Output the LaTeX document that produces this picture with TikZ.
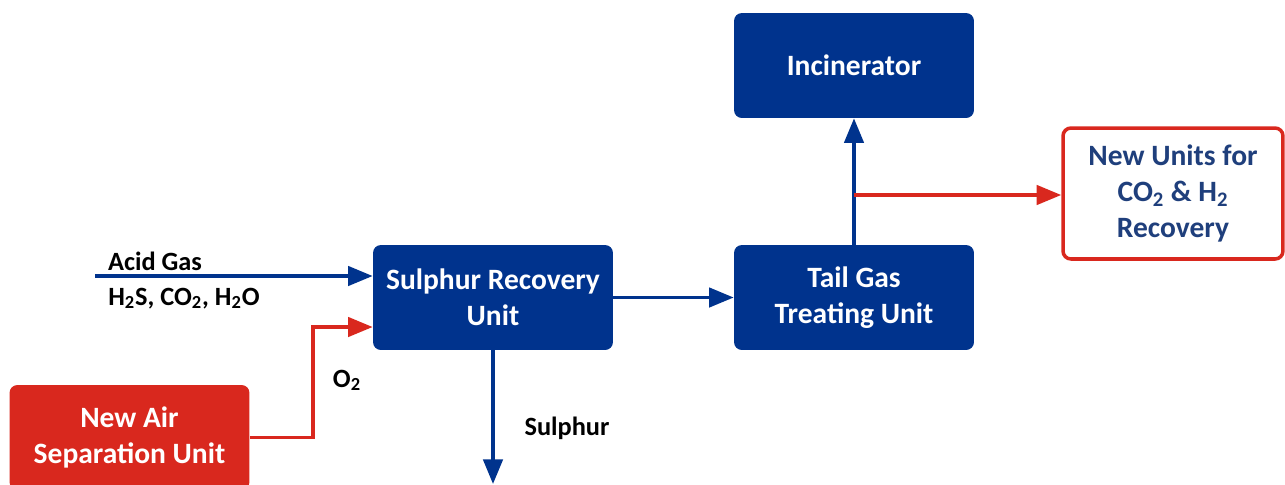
\documentclass[tikz,border=0pt]{standalone}
\usepackage{fontspec}
\setmainfont{Carlito}
\usepackage{tikz}
\usetikzlibrary{
    arrows.meta,
    calc,
    positioning
}
\definecolor{unitblue}{HTML}{00338D}
\definecolor{newred}{HTML}{D9281E}
\definecolor{textblue}{HTML}{1F3F7C}
\newcommand{\sbs}[1]{\textsubscript{#1}}

\begin{document}
\begin{tikzpicture}[x=0.02cm, y=-0.02cm,
        unitbox/.style={rectangle, rounded corners=4.5pt, fill=unitblue, text=white,
            font=\fontsize{16.8}{20.5}\selectfont\bfseries, align=center,
            minimum width=4.8cm, minimum height=2.1cm, inner sep=2pt},
        newbox/.style={rectangle, rounded corners=4.5pt, draw=newred, line width=2pt,
            fill=white, text=textblue, font=\fontsize{16.8}{20.5}\selectfont\bfseries,
            align=center, minimum width=4.4cm, minimum height=2.62cm, inner sep=2pt},
        asubox/.style={unitbox, fill=newred},
        flow/.style={draw=unitblue, line width=2pt, -{Triangle[length=14pt,width=11pt]}},
        redflow/.style={flow, draw=newred, -{Triangle[length=14pt,width=11pt,color=newred]}},
        lbl/.style={font=\fontsize{15}{18}\selectfont\bfseries, inner sep=0pt, anchor=base}]
                        \useasboundingbox (0,0) rectangle (1285,484);

                        \node[unitbox] (sru) at (493, 297.5) {Sulphur Recovery\\Unit};
                        \node[unitbox] (tgtu) at (854, 297.5) {Tail Gas\\Treating Unit};
                        \node[unitbox] (incin) at (854, 65.5) {Incinerator};
                        \node[newbox] (newu) at (1173, 193.5) {New Units for\\CO\sbs{2} \& H\sbs{2}\\Recovery};
                        \node[asubox] (asu) at (129.5, 437.5) {New Air\\Separation Unit};

                        \coordinate (acid) at (95, 276);
                        \coordinate (o2bend) at (313, 327);
                        \coordinate (tap) at (854, 195);
                        \coordinate (sulout) at (493, 484);

                        \node[lbl] (acidlbl) at (155, 270) {Acid Gas};
                        \node[lbl] (complbl) at (184, 305) {H\sbs{2}S, CO\sbs{2}, H\sbs{2}O};
                        \node[lbl] (o2lbl) at (347, 387) {O\sbs{2}};
                        \node[lbl] (sullbl) at (567, 435) {Sulphur};

                        \draw[flow] (acid) -- (acid -| sru.west);
                        \draw[redflow] (asu.east) -| (o2bend) -- (o2bend -| sru.west);
                        \draw[flow] (sru) -- (tgtu);
                        \draw[flow] (sru.south) -- (sulout);
                        \draw[flow] (tgtu) -- (incin);
                        \draw[redflow] (tap) -- (tap -| newu.west);
                    \end{tikzpicture}
\end{document}
